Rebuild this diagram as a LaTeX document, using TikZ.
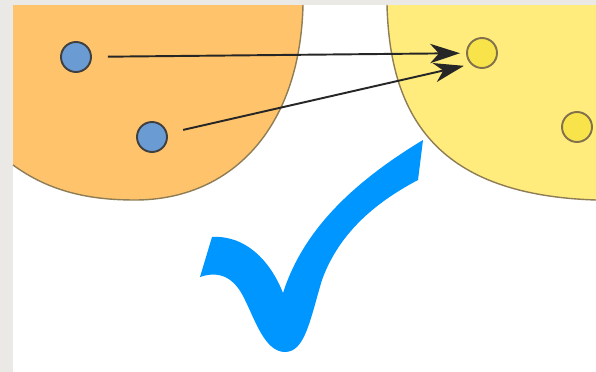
\documentclass[tikz,border=0pt]{standalone}
\usepackage{tikz}
\usetikzlibrary{arrows.meta}

\definecolor{framegray}{HTML}{EBE9E6}
\definecolor{setorange}{HTML}{FFC46B}
\definecolor{setyellow}{HTML}{FFEC7C}
\definecolor{rimbrown}{HTML}{8F7D55}
\definecolor{dotblue}{HTML}{6A9BD3}
\definecolor{dotyellow}{HTML}{F8E44A}
\definecolor{tickblue}{HTML}{0096FF}

\begin{document}
\begin{tikzpicture}[
    x=0.02cm, y=-0.02cm,
    dom/.style={circle, draw=black!75, fill=dotblue, line width=1.1pt, minimum size=0.6cm, inner sep=0pt},
    cod/.style={circle, draw=rimbrown!90!black, fill=dotyellow, line width=1.1pt, minimum size=0.6cm, inner sep=0pt},
    rim/.style={draw=rimbrown, line width=0.8pt},
    edge/.style={-{Stealth[length=17pt, width=11pt, inset=5pt]}, line width=1.1pt, draw=black!85, shorten <=0.32cm}
]
\useasboundingbox (0,0) rectangle (596,372);
\fill[framegray] (0,0) rectangle (596,372);
\fill[white] (13,5) rectangle (596,372);

% the two sets
\fill[setorange] (13,5) -- (13,165) .. controls (50,192) and (90,200) .. (135,200)
    .. controls (230,200) and (300,130) .. (303,5) -- cycle;
\draw[rim] (13,165) .. controls (50,192) and (90,200) .. (135,200)
    .. controls (230,200) and (300,130) .. (303,5);
\fill[setyellow] (387,5) .. controls (390,120) and (440,195) .. (596,200) -- (596,5) -- cycle;
\draw[rim] (387,5) .. controls (390,120) and (440,195) .. (596,200);

% elements
\node[dom] (a1) at (76,57) {};
\node[dom] (a2) at (152,137) {};
\node[cod] (b1) at (482,53) {};
\node[cod] (b2) at (577,127) {};

\draw[edge, shorten >=0.12cm] (a1) -- (b1);
\draw[edge, shorten >=0.14cm] (a2) -- (b1.south west);

% tick
\fill[tickblue] (423,140) -- (418,180)
    .. controls (380,200) and (340,230) .. (322,280)
    .. controls (310,320) and (305,352) .. (285,352)
    .. controls (265,352) and (255,320) .. (245,300)
    .. controls (235,278) and (220,270) .. (200,277) -- (212,237)
    .. controls (245,235) and (270,260) .. (283,293)
    .. controls (300,240) and (340,190) .. (423,140) -- cycle;
\end{tikzpicture}
\end{document}
